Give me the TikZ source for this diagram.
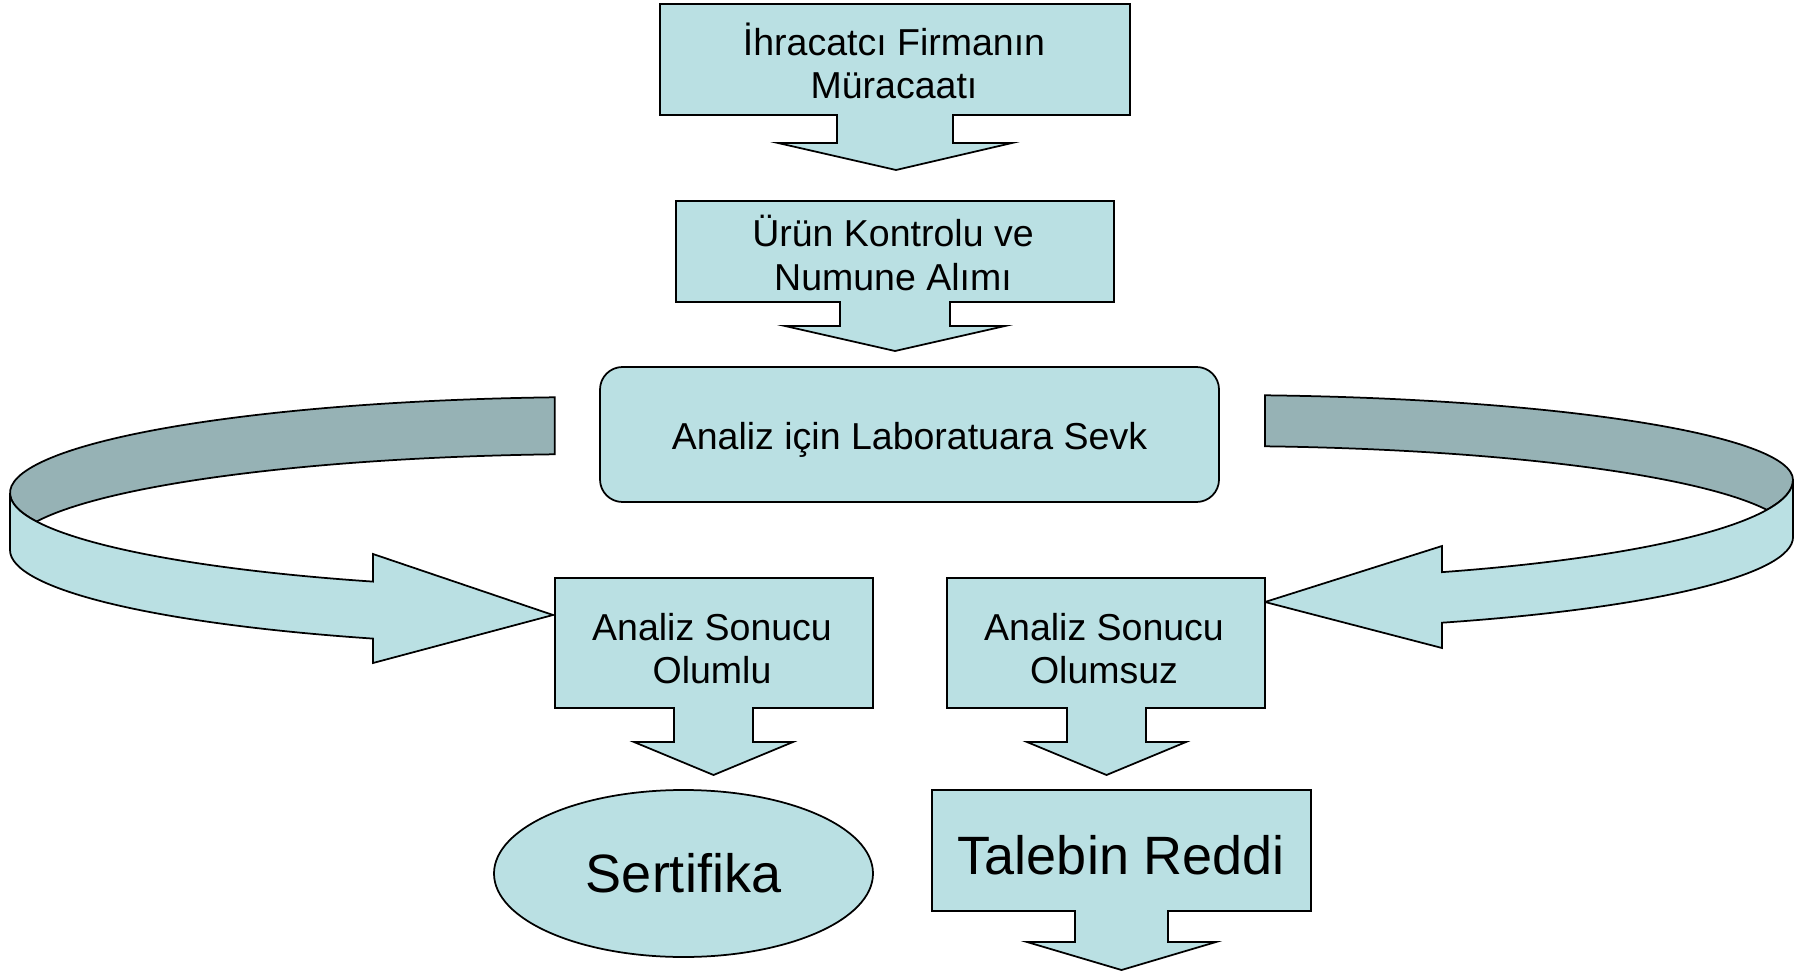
\documentclass[tikz,border=0pt]{standalone}
\usepackage{fontspec}
\setmainfont{Liberation Sans}
\usetikzlibrary{shapes.geometric}
\definecolor{lightfill}{RGB}{186,224,227}
\definecolor{darkfill}{RGB}{150,178,181}
\begin{document}
\begin{tikzpicture}[x=0.4pt,y=0.4pt,
  shapeline/.style={draw=black,line width=0.7pt,fill=lightfill,line join=miter},
  darkline/.style={draw=black,line width=0.7pt,fill=darkfill,line join=miter},
  txt/.style={align=center,inner sep=0pt,font=\fontsize{15}{17.4}\selectfont},
  bigtxt/.style={inner sep=0pt,font=\fontsize{21.6}{25}\selectfont}]
\useasboundingbox (0,0) rectangle (1805,-972);

% --- callout 1
\draw[shapeline] (660,-4) -- (1130,-4) -- (1130,-115) -- (953,-115) -- (953,-143) -- (1012,-143) -- (896,-170) -- (778,-143) -- (837,-143) -- (837,-115) -- (660,-115) -- cycle;
\node[txt] (t1) at (894,-61) {İhracatcı Firmanın\\Müracaatı};

% --- callout 2
\draw[shapeline] (676,-201) -- (1114,-201) -- (1114,-302) -- (950,-302) -- (950,-326) -- (1005,-326) -- (895,-351) -- (785,-326) -- (840,-326) -- (840,-302) -- (676,-302) -- cycle;
\node[txt] (t2) at (893,-253) {Ürün Kontrolu ve\\Numune Alımı};

% --- rounded box
\node[shapeline,rounded corners=9pt,minimum width=247.6pt,minimum height=54pt] (lab) at (909.5,-434.5) {};
\node[txt] (t3) at (909.5,-440) {Analiz için Laboratuara Sevk};

% --- left ribbon arrow
\draw[darkline] (554.7,-397.3)
  arc[start angle=94.4,end angle=197.27,x radius=236pt,y radius=38.4pt]
  arc[start angle=162.73,end angle=94.4,x radius=236pt,y radius=38.4pt] -- cycle;
\draw[shapeline] (10,-493)
  arc[start angle=180,end angle=247.37,x radius=236pt,y radius=38.4pt]
  -- (373,-554) -- (553,-615) -- (373,-663) -- (373,-638.6)
  arc[start angle=247.37,end angle=180,x radius=236pt,y radius=38.4pt] -- cycle;

% --- right ribbon arrow
\draw[darkline] (1265,-395.3)
  arc[start angle=85.4,end angle=0,x radius=229.6pt,y radius=34pt]
  arc[start angle=360,end angle=342.64,x radius=229.6pt,y radius=40pt]
  arc[start angle=17.36,end angle=85.4,x radius=229.6pt,y radius=36.4pt] -- cycle;
\draw[shapeline] (1793,-480)
  arc[start angle=360,end angle=292.86,x radius=229.6pt,y radius=40pt]
  -- (1442,-546) -- (1265,-602) -- (1442,-648) -- (1442,-622.7)
  arc[start angle=292.86,end angle=360,x radius=229.6pt,y radius=37.2pt] -- cycle;

% --- callout 4 (Olumlu)
\draw[shapeline] (555,-578) -- (873,-578) -- (873,-708) -- (753,-708) -- (753,-742) -- (793,-742) -- (713.5,-775) -- (634,-742) -- (674,-742) -- (674,-708) -- (555,-708) -- cycle;
\node[txt] (t4) at (712,-648.5) {Analiz Sonucu\\Olumlu};

% --- callout 5 (Olumsuz)
\draw[shapeline] (947,-578) -- (1265,-578) -- (1265,-708) -- (1146,-708) -- (1146,-742) -- (1186,-742) -- (1106.5,-775) -- (1027,-742) -- (1067,-742) -- (1067,-708) -- (947,-708) -- cycle;
\node[txt] (t5) at (1104,-648.5) {Analiz Sonucu\\Olumsuz};

% --- ellipse
\node[shapeline,bigtxt,ellipse,minimum width=151.6pt,minimum height=66.8pt] (cert) at (683.5,-873.5) {Sertifika};

% --- callout 6
\draw[shapeline] (932,-790) -- (1311,-790) -- (1311,-911) -- (1168,-911) -- (1168,-942) -- (1216,-942) -- (1121.5,-970) -- (1027,-942) -- (1075,-942) -- (1075,-911) -- (932,-911) -- cycle;
\node[bigtxt] (t6) at (1121.5,-855) {Talebin Reddi};
\end{tikzpicture}
\end{document}
